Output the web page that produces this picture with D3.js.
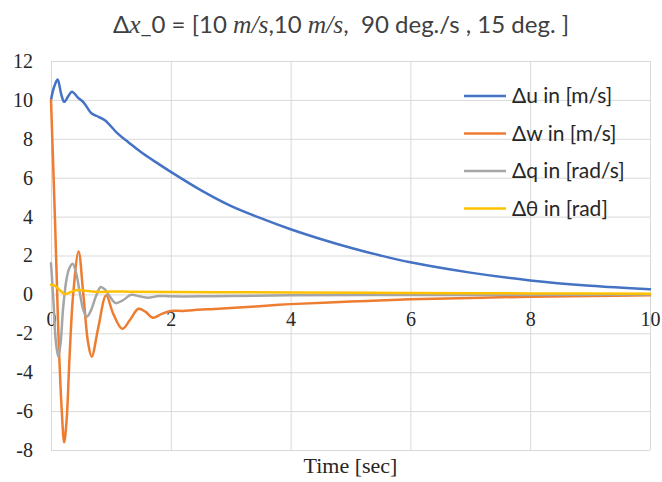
<!DOCTYPE html>
<html>
<head>
<meta charset="utf-8">
<script src="https://cdn.jsdelivr.net/npm/d3@7"></script>
<style>
  html, body { margin: 0; padding: 0; background: #fff; }
  svg { display: block; }
  .tick-label { font-family: "Liberation Serif", "Times New Roman", serif; font-size: 20px; fill: #262626; }
  .legend-label { font-family: Lato, "Open Sans", sans-serif; font-size: 21px; fill: #262626; }
  .title { font-family: Lato, "Open Sans", sans-serif; font-size: 24px; fill: #404040; white-space: pre; }
  .math { font-family: "Liberation Serif", serif; font-style: italic; font-size: 25.5px; }
</style>
</head>
<body>
<svg id="chart" width="662" height="482"></svg>
<script>
// Perturbation response of the longitudinal states after the initial disturbance
const uTime   = [0, 0.05, 0.11, 0.17, 0.22, 0.29, 0.35, 0.45, 0.55, 0.68, 0.8, 0.9, 1.12, 1.3, 1.5, 1.75, 2, 2.5, 3, 3.5, 4, 4.5, 5, 5.5, 6, 7, 8, 9, 10];
const uValues = [10, 10.65, 11.05, 10.3, 9.9, 10.2, 10.42, 10.12, 9.85, 9.3, 9.12, 8.95, 8.25, 7.8, 7.32, 6.8, 6.3, 5.36, 4.55, 3.92, 3.35, 2.85, 2.4, 2.0, 1.65, 1.12, 0.72, 0.45, 0.27];

const wTime   = [0, 0.07, 0.12, 0.18, 0.22, 0.26, 0.31, 0.37, 0.46, 0.54, 0.62, 0.68, 0.79, 0.92, 1.04, 1.19, 1.32, 1.46, 1.58, 1.7, 1.85, 2.0, 2.2, 2.4, 2.8, 3.2, 3.7, 4, 5, 6, 7, 8, 9, 10];
const wValues = [10, 3.5, -1.7, -6.0, -7.6, -6.5, -3.2, 0, 2.2, 0, -2.5, -3.2, -1.7, -0.05, -1.0, -1.77, -1.3, -0.74, -0.9, -1.2, -1.0, -0.85, -0.85, -0.8, -0.74, -0.66, -0.56, -0.5, -0.37, -0.25, -0.18, -0.12, -0.08, -0.05];

const qTime   = [0, 0.04, 0.08, 0.12, 0.16, 0.2, 0.25, 0.3, 0.36, 0.42, 0.48, 0.54, 0.6, 0.67, 0.75, 0.83, 0.9, 0.98, 1.08, 1.2, 1.34, 1.48, 1.62, 1.8, 2.0, 2.5, 3, 4, 6, 8, 10];
const qValues = [1.6, -0.3, -2.4, -3.2, -2.5, -0.8, 0.6, 1.3, 1.58, 1.1, 0.1, -0.8, -1.15, -0.8, -0.1, 0.38, 0.25, -0.1, -0.45, -0.3, -0.02, -0.1, -0.17, -0.08, -0.1, -0.1, -0.08, -0.05, -0.03, -0.02, -0.01];

const thTime   = [0, 0.06, 0.12, 0.18, 0.23, 0.3, 0.38, 0.46, 0.55, 0.65, 0.8, 1.0, 1.3, 2, 3, 4, 6, 8, 10];
const thValues = [0.5, 0.45, 0.3, 0.12, 0.02, 0.08, 0.18, 0.22, 0.2, 0.16, 0.13, 0.15, 0.14, 0.12, 0.11, 0.1, 0.07, 0.05, 0.03];

const seriesNames  = ["Δu in [m/s]", "Δw in [m/s]", "Δq in [rad/s]", "Δθ in [rad]"];
const seriesColors = ["#4472C4", "#ED7D31", "#A5A5A5", "#FFC000"];

const xTicks = [0, 2, 4, 6, 8, 10];
const yTicks = [-8, -6, -4, -2, 0, 2, 4, 6, 8, 10, 12];
const xTitle = "Time [sec]";

const series = [
  { name: seriesNames[0], color: seriesColors[0], t: uTime,  v: uValues },
  { name: seriesNames[1], color: seriesColors[1], t: wTime,  v: wValues },
  { name: seriesNames[2], color: seriesColors[2], t: qTime,  v: qValues },
  { name: seriesNames[3], color: seriesColors[3], t: thTime, v: thValues }
];

const svg = d3.select("#chart");
const plot = { left: 51, right: 650, top: 61, bottom: 450 };

const x = d3.scaleLinear().domain([0, 10]).range([plot.left, plot.right]);
const y = d3.scaleLinear().domain([-8, 12]).range([plot.bottom, plot.top]);

// gridlines
svg.append("g")
  .attr("transform", `translate(0,${plot.bottom})`)
  .call(d3.axisBottom(x).tickValues(xTicks).tickSize(-(plot.bottom - plot.top)).tickFormat(""))
  .call(g => g.select(".domain").remove())
  .call(g => g.selectAll("line").attr("stroke", "#D9D9D9").attr("stroke-width", 1));

svg.append("g")
  .attr("transform", `translate(${plot.left},0)`)
  .call(d3.axisLeft(y).tickValues(yTicks).tickSize(-(plot.right - plot.left)).tickFormat(""))
  .call(g => g.select(".domain").remove())
  .call(g => g.selectAll("line").attr("stroke", "#D9D9D9").attr("stroke-width", 1));

// value axis labels
svg.append("g")
  .attr("transform", `translate(${plot.left},0)`)
  .call(d3.axisLeft(y).tickValues(yTicks).tickSize(0).tickPadding(18).tickFormat(d => d < 0 ? "-" + Math.abs(d) : d))
  .call(g => g.select(".domain").remove())
  .call(g => g.selectAll("text").attr("class", "tick-label").attr("font-family", null).attr("font-size", null).attr("fill", null));

// time axis labels, crossing at zero
svg.append("g")
  .attr("transform", `translate(0,${y(0)})`)
  .call(d3.axisBottom(x).tickValues(xTicks).tickSize(0).tickPadding(17))
  .call(g => g.select(".domain").remove())
  .call(g => g.selectAll("text").attr("class", "tick-label").attr("font-family", null).attr("font-size", null).attr("fill", null));

// axis title
svg.append("text")
  .attr("class", "tick-label")
  .attr("x", (plot.left + plot.right) / 2)
  .attr("y", 473)
  .attr("text-anchor", "middle")
  .style("font-size", "22px")
  .text(xTitle);

// series lines
const line = d3.line()
  .x(d => x(d[0]))
  .y(d => y(d[1]))
  .curve(d3.curveCatmullRom.alpha(0.5));

svg.append("g")
  .selectAll("path")
  .data(series)
  .join("path")
  .attr("fill", "none")
  .attr("stroke", d => d.color)
  .attr("stroke-width", 2.5)
  .attr("stroke-linejoin", "round")
  .attr("stroke-linecap", "round")
  .attr("d", d => line(d.t.map((t, i) => [t, d.v[i]])));

// legend
const legend = svg.append("g").attr("transform", "translate(464,96)");
const rows = legend.selectAll("g").data(series).join("g")
  .attr("transform", (d, i) => `translate(0,${i * 37.5})`);
rows.append("line")
  .attr("x1", 0).attr("x2", 42)
  .attr("stroke", d => d.color).attr("stroke-width", 2.5);
rows.append("text")
  .attr("class", "legend-label")
  .attr("x", 48).attr("dy", "0.35em")
  .text(d => d.name);

// title
const title = svg.append("text")
  .attr("class", "title")
  .attr("x", 341).attr("y", 33)
  .attr("text-anchor", "middle");
title.append("tspan").text("Δ");
title.append("tspan").attr("class", "math").text("x");
title.append("tspan").text("_0 = [10 ");
title.append("tspan").attr("class", "math").text("m/s");
title.append("tspan").text(",10 ");
title.append("tspan").attr("class", "math").text("m/s");
title.append("tspan").text(",  90 deg./s , 15 deg. ]");
</script>
</body>
</html>
